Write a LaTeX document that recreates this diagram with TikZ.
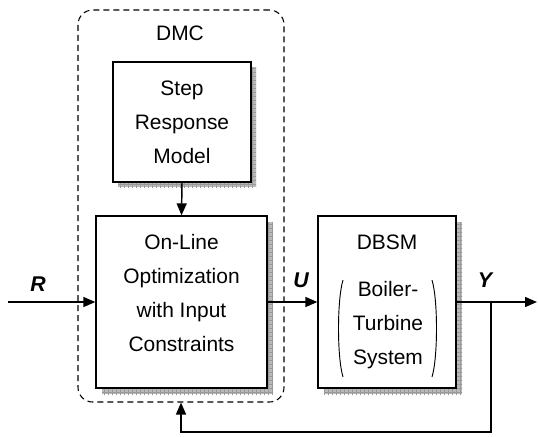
\documentclass[tikz,border=0pt]{standalone}
\usepackage{fontspec}
\setmainfont{Liberation Sans}
\usetikzlibrary{arrows.meta,patterns}
\begin{document}
\begin{tikzpicture}[x=0.75pt,y=-0.75pt,
  blk/.style={draw=black,line width=1pt,fill=white,inner sep=0pt},
  shad/.style={fill=gray!55,draw=none},
  shadgrid/.style={pattern=grid,pattern color=gray!80},
  txt/.style={font=\fontsize{15.7pt}{25.5pt}\selectfont,align=center,inner sep=0pt},
  sig/.style={font=\fontsize{16pt}{18pt}\selectfont\bfseries\itshape,inner sep=0pt},
  conn/.style={line width=1.1pt,-{Triangle[length=9pt,width=7.5pt]}},
  wire/.style={line width=1.1pt}]
\useasboundingbox (0,0) rectangle (538,436);
% dashed DMC box
\node[draw=black,dash pattern=on 4.5pt off 3pt,line width=0.8pt,rounded corners=11pt,minimum width=154.5pt,minimum height=294pt,inner sep=0pt] (dmc) at (181,206) {};
\node[txt] (dmclbl) at (180,33) {DMC};
% shadows
\fill[shad] (118,67) rectangle (256,187);
\fill[shadgrid] (118,67) rectangle (256,187);
\fill[shad] (102,222) rectangle (273,394);
\fill[shadgrid] (102,222) rectangle (273,394);
\fill[shad] (324,222) rectangle (462,394);
\fill[shadgrid] (324,222) rectangle (462,394);
% blocks
\node[blk,txt,minimum width=103.5pt,minimum height=90pt] (srm) at (182,122) {Step\\Response\\Model};
\node[blk,minimum width=128.25pt,minimum height=129pt] (opt) at (181.5,302) {};
\node[txt] (opttxt) at (181.5,293.5) {On-Line\\Optimization\\with Input\\Constraints};
\node[blk,minimum width=103.5pt,minimum height=129pt] (dbsm) at (387,302) {};
\node[txt] (dbsmlbl) at (387,242) {DBSM};
\node[txt] (btstxt) at (388,325) {Boiler-\\Turbine\\System};
\draw[line width=0.7pt] (343,280) .. controls (337,300) and (337,357) .. (343,377);
\draw[line width=0.7pt] (432,280) .. controls (438,300) and (438,357) .. (432,377);
% signals
\coordinate (rin) at (8,302);
\coordinate (yout) at (537,302);
\coordinate (br) at (491,302);
\coordinate (fb) at (491,432);
\draw[conn] (rin) -- (opt.west);
\draw[conn] (opt.east) -- (dbsm.west);
\draw[conn] (dbsm.east) -- (yout);
\draw[conn] (srm.south) -- (opt.north);
\draw[conn] (br) -- (fb) -| (dmc.south);
\node[sig] (rl) at (38,284) {R};
\node[sig] (ul) at (301,280) {U};
\node[sig] (yl) at (485,280) {Y};
\end{tikzpicture}
\end{document}
